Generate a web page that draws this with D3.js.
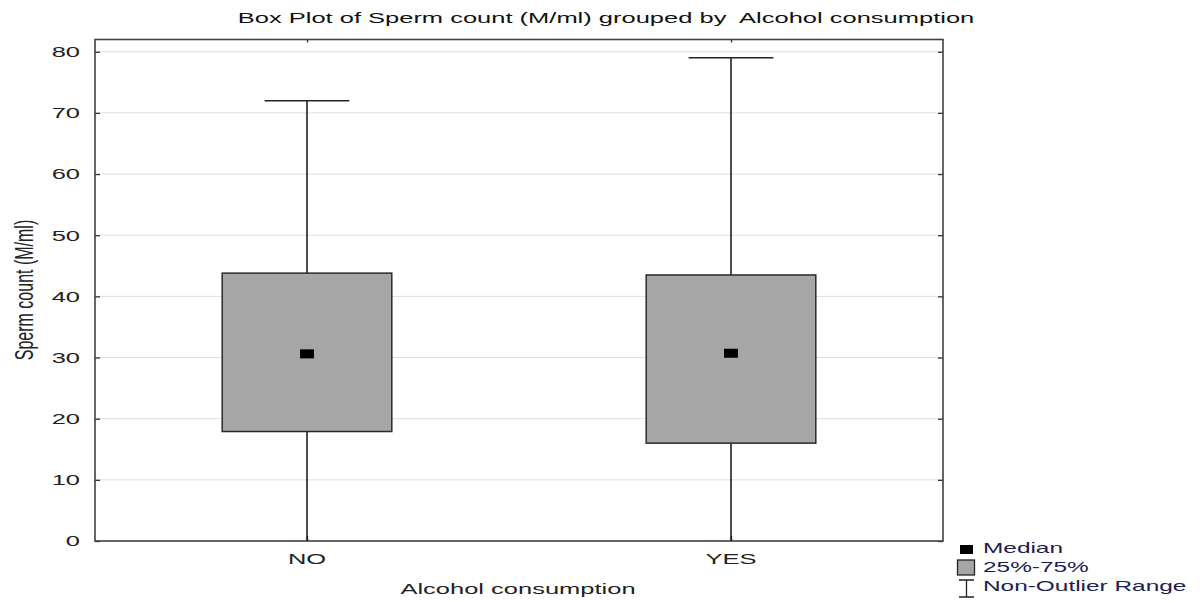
<!DOCTYPE html>
<html><head><meta charset="utf-8">
<script src="https://cdn.jsdelivr.net/npm/d3@7"></script>
<style>body{margin:0;background:#fff}svg{display:block}text{font-family:"Liberation Sans",Arial,sans-serif;white-space:pre}</style>
</head><body>
<script>
const categories = ["NO", "YES"];
const whiskerLow = [0, 0];
const q1 = [17.9, 16.0];
const median = [30.6, 30.7];
const q3 = [43.8, 43.5];
const whiskerHigh = [72, 79];
const yTicks = [0, 10, 20, 30, 40, 50, 60, 70, 80];
const legendLabels = ["Median", "25%-75%", "Non-Outlier Range"];
const title = "Box Plot of Sperm count (M/ml) grouped by  Alcohol consumption";
const xTitle = "Alcohol consumption";
const yTitle = "Sperm count (M/ml)";

const W = 1203, H = 602;
const m = {l: 95, r: 260, t: 39.5, b: 61};
const svg = d3.select("body").append("svg").attr("width", W).attr("height", H);
const x = d3.scalePoint().domain(categories).range([m.l, W - m.r]).padding(0.5);
const y = d3.scaleLinear().domain([0, 82]).range([H - m.b, m.t]);
const pw = W - m.r - m.l;

// measure stretch from title
const tmp = svg.append("text").attr("font-size", 15).text(title);
const sx = 737 / tmp.node().getComputedTextLength();
tmp.remove();

function stext(px, py, str, opts = {}) {
  const g = svg.append("g").attr("transform", `translate(${px},${py}) scale(${opts.sx || sx},1)`);
  const t = g.append("text").attr("font-size", opts.size || 15)
    .attr("text-anchor", opts.anchor || "middle")
    .attr("dominant-baseline", "central")
    .attr("fill", opts.fill || "#222").text(str);
  if (opts.rotate) t.attr("transform", `rotate(${opts.rotate})`);
  return t;
}

// grid
svg.append("g").selectAll("line").data(yTicks.filter(d => d > 0)).join("line")
  .attr("x1", m.l).attr("x2", W - m.r).attr("y1", d => y(d)).attr("y2", d => y(d))
  .attr("stroke", "#dedede").attr("stroke-width", 1);

// axes (inward ticks)
const yl = d3.axisLeft(y).tickValues(yTicks).tickSize(-5).tickFormat("");
const yr = d3.axisRight(y).tickValues(yTicks).tickSize(-5).tickFormat("");
const xt = d3.axisTop(x).tickSize(-3).tickFormat("");
const xb = d3.axisBottom(x).tickSize(-5).tickFormat("");
[[yl, `translate(${m.l},0)`], [yr, `translate(${W - m.r},0)`], [xt, `translate(0,${m.t})`], [xb, `translate(0,${H - m.b})`]]
  .forEach(([ax, tr]) => {
    const g = svg.append("g").attr("transform", tr).call(ax);
    g.select(".domain").remove();
    g.selectAll("line").attr("stroke", "#333").attr("stroke-width", 1.3);
  });

// frame
svg.append("rect").attr("x", m.l).attr("y", m.t).attr("width", pw).attr("height", H - m.b - m.t)
  .attr("fill", "none").attr("stroke", "#404040").attr("stroke-width", 1.6);

const boxW = pw * 0.2, capW = boxW / 2;
const data = categories.map((c, i) => ({c, lo: whiskerLow[i], q1: q1[i], med: median[i], q3: q3[i], hi: whiskerHigh[i]}));
const gb = svg.append("g").selectAll("g").data(data).join("g");
gb.append("line").attr("x1", d => x(d.c)).attr("x2", d => x(d.c))
  .attr("y1", d => y(d.lo)).attr("y2", d => y(d.hi)).attr("stroke", "#111").attr("stroke-width", 1.5);
gb.append("line").attr("x1", d => x(d.c) - capW / 2).attr("x2", d => x(d.c) + capW / 2)
  .attr("y1", d => y(d.hi)).attr("y2", d => y(d.hi)).attr("stroke", "#222").attr("stroke-width", 1.5);
gb.append("rect").attr("x", d => x(d.c) - boxW / 2).attr("width", boxW)
  .attr("y", d => y(d.q3)).attr("height", d => y(d.q1) - y(d.q3))
  .attr("fill", "#a6a6a6").attr("stroke", "#2a2a2a").attr("stroke-width", 1.5);
gb.append("rect").attr("x", d => x(d.c) - 7).attr("width", 14)
  .attr("y", d => y(d.med) - 4.5).attr("height", 9).attr("fill", "#000");

// tick labels
yTicks.forEach(v => stext(80, y(v), String(v), {anchor: "end", fill: "#222"}));
categories.forEach(c => stext(x(c), 558.5, c, {fill: "#222"}));

// titles
stext(606, 18, title, {fill: "#111"});
stext(518, 589, xTitle, {fill: "#222"});
stext(25, 290, yTitle, {rotate: -90, fill: "#222", size: 16, sx: sx * 0.95});

// legend
const lg = svg.append("g");
lg.append("rect").attr("x", 960).attr("y", 545).attr("width", 13).attr("height", 9).attr("fill", "#000");
lg.append("rect").attr("x", 957.5).attr("y", 560).attr("width", 17).attr("height", 15)
  .attr("fill", "#a6a6a6").attr("stroke", "#222").attr("stroke-width", 1.3);
lg.append("path").attr("d", "M959,580H974M966.5,580V597M959,597H974").attr("fill", "none")
  .attr("stroke", "#222").attr("stroke-width", 1.3);
const ly = [548, 567, 586];
legendLabels.forEach((t, i) => stext(983, ly[i], t, {anchor: "start", fill: "#1c2050", size: 14.5, sx: sx * 0.99}));
</script>
</body></html>
